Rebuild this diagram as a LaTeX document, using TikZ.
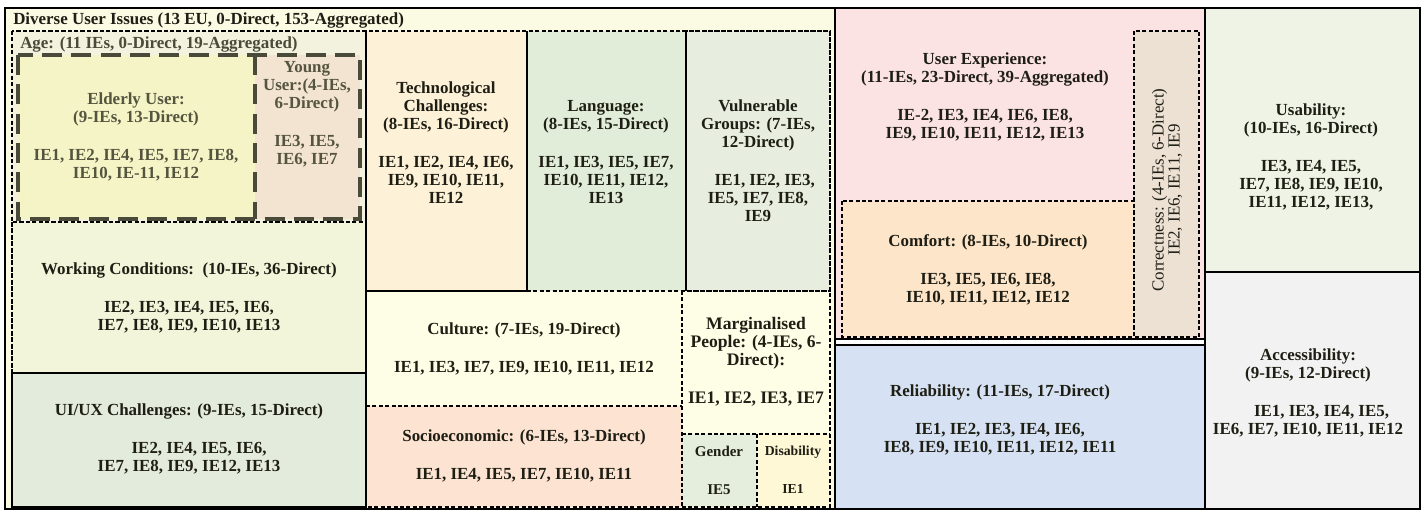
\documentclass[tikz,border=0pt]{standalone}
\usepackage{fontspec}
\setmainfont{Liberation Serif}
\definecolor{textc}{HTML}{1E1E14}
\definecolor{olivet}{HTML}{55553F}
\definecolor{agedash}{HTML}{4A4A3A}
\definecolor{cDiverse}{HTML}{FBFBE4}
\definecolor{cAge}{HTML}{F2F2DE}
\definecolor{cElder}{HTML}{F4F4C6}
\definecolor{cYoung}{HTML}{F3E3D1}
\definecolor{cTech}{HTML}{FDF1D7}
\definecolor{cLang}{HTML}{E1EDD9}
\definecolor{cVuln}{HTML}{E7EEDF}
\definecolor{cWork}{HTML}{F3F5DA}
\definecolor{cUI}{HTML}{E3EBDC}
\definecolor{cCult}{HTML}{FEFEE6}
\definecolor{cSocio}{HTML}{FCE3D2}
\definecolor{cMarg}{HTML}{FEFEE6}
\definecolor{cGender}{HTML}{E5EDDC}
\definecolor{cDisab}{HTML}{FEF8D6}
\definecolor{cUX}{HTML}{FCE3E3}
\definecolor{cCorr}{HTML}{EDE1D4}
\definecolor{cComf}{HTML}{FDE5C9}
\definecolor{cRel}{HTML}{D6E2F3}
\definecolor{cUsab}{HTML}{EFF3E6}
\definecolor{cAcc}{HTML}{F2F2F2}
\begin{document}
\begin{tikzpicture}[x=0.75pt,y=-0.75pt,
  txt/.style={font=\fontsize{12.7}{13.5}\selectfont\bfseries, align=center, text=textc, inner sep=0pt},
  dbox/.style={draw=black, line width=1.8pt, dash pattern=on 3pt off 1.8pt},
  sbox/.style={draw=black, line width=1.8pt},
  agebox/.style={draw=agedash, line width=2.4pt, dash pattern=on 15pt off 7pt},
  thick frame/.style={draw=black, line width=2.2pt}]
\useasboundingbox (0,0) rectangle (1421,510);
% backgrounds
\fill[cDiverse] (5,8) rectangle (835,510);
\fill[cUX] (835,8) rectangle (1205,340);
\fill[cRel] (835,344) rectangle (1205,510);
\fill[cUsab] (1205,8) rectangle (1420,272);
\fill[cAcc] (1205,272) rectangle (1420,510);
% left region fills
\fill[cAge] (12,31) rectangle (366,222);
\fill[cElder] (18,55) rectangle (255,219);
\fill[cYoung] (255,55) rectangle (360,219);
\fill[cTech] (366,31) rectangle (527,291);
\fill[cLang] (527,31) rectangle (686,291);
\fill[cVuln] (686,31) rectangle (830,291);
\fill[cWork] (12,222) rectangle (366,373);
\fill[cUI] (12,373) rectangle (366,507);
\fill[cCult] (366,291) rectangle (682,406);
\fill[cSocio] (366,406) rectangle (682,507);
\fill[cMarg] (682,291) rectangle (830,434);
\fill[cGender] (682,434) rectangle (757,507);
\fill[cDisab] (757,434) rectangle (830,507);
% right region fills
\fill[cCorr] (1134,31) rectangle (1199,337);
\fill[cComf] (842,201) rectangle (1134,337);
% dashed borders
\draw[dbox] (12,31) rectangle (830,507);
\draw[dbox] (12,31) rectangle (366,222);
\draw[dbox] (12,222) rectangle (366,373);
\draw[dbox] (12,373) rectangle (366,507);
\draw[dbox] (527,291) -- (830,291);
\draw[dbox] (686,31) rectangle (830,291);
\draw[dbox] (366,406) -- (682,406);
\draw[dbox] (682,291) -- (682,507);
\draw[dbox] (682,434) -- (830,434);
\draw[dbox] (757,434) -- (757,507);
\draw[dbox] (1134,31) rectangle (1199,337);
\draw[dbox] (842,201) rectangle (1134,337);
% age inner frame
\draw[agebox] (18,55) rectangle (360,219);
\draw[agebox] (255,55) -- (255,219);
% solid segments
\draw[sbox] (366,31) -- (366,291) -- (527,291) -- (527,31);
\draw[sbox] (686,31) -- (686,291);
\draw[sbox] (366,291) -- (366,507);
% right thick frame
\draw[thick frame] (835,8) -- (835,510);
\draw[thick frame] (1205,8) -- (1205,510);
\draw[thick frame] (1205,272) -- (1420,272);
\draw[thick frame] (835,339) -- (1205,339);
\draw[thick frame] (835,345) -- (1205,345);
\draw[line width=1.6pt] (5,8) rectangle (1420,509);
% titles
\node[txt, anchor=west] (tDiverse) at (13,20) {Diverse User Issues (13 EU, 0-Direct, 153-Aggregated)};
\node[txt, anchor=west, text=agedash] (tAge) at (20,44) {Age: (11 IEs, 0-Direct, 19-Aggregated)};
% texts
\node[txt, text=olivet] (tElder) at (136,137) {Elderly User:\\(9-IEs, 13-Direct)\\[15pt]IE1, IE2, IE4, IE5, IE7, IE8,\\IE10, IE-11, IE12};
\node[txt, text=olivet] (tYoung) at (307,114) {Young\\User:(4-IEs,\\6-Direct)\\[15pt]IE3, IE5,\\IE6, IE7};
\node[txt] (tTech) at (446,143) {Technological\\Challenges:\\(8-IEs, 16-Direct)\\[15pt]IE1, IE2, IE4, IE6,\\IE9, IE10, IE11,\\IE12};
\node[txt] (tLang) at (606,152) {Language:\\(8-IEs, 15-Direct)\\[15pt]IE1, IE3, IE5, IE7,\\IE10, IE11, IE12,\\IE13};
\node[txt] (tVuln) at (758,161) {Vulnerable\\Groups: (7-IEs,\\12-Direct)\\[15pt]\hspace*{0.8em}IE1, IE2, IE3,\\IE5, IE7, IE8,\\IE9};
\node[txt] (tWork) at (189,298) {Working Conditions:\ \ (10-IEs, 36-Direct)\\[15pt]IE2, IE3, IE4, IE5, IE6,\\IE7, IE8, IE9, IE10, IE13};
\node[txt] (tUI) at (189,439) {UI/UX Challenges: (9-IEs, 15-Direct)\\[15pt]\hspace*{1.2em}IE2, IE4, IE5, IE6,\\IE7, IE8, IE9, IE12, IE13};
\node[txt] (tCult) at (524,349) {Culture: (7-IEs, 19-Direct)\\[15pt]IE1, IE3, IE7, IE9, IE10, IE11, IE12};
\node[txt] (tSocio) at (524,456) {Socioeconomic: (6-IEs, 13-Direct)\\[15pt]IE1, IE4, IE5, IE7, IE10, IE11};
\node[txt, font=\fontsize{13.2}{13.5}\selectfont\bfseries] (tMarg) at (756,362) {Marginalised\\People: (4-IEs, 6-\\Direct):\\[15pt]IE1, IE2, IE3, IE7};
\node[txt, font=\fontsize{11.2}{13.5}\selectfont\bfseries] (tGender) at (719,470) {Gender\\[15pt]IE5};
\node[txt, font=\fontsize{10.3}{13.5}\selectfont\bfseries] (tDisab) at (793,470) {Disability\\[15pt]IE1};
\node[txt] (tUX) at (985,97) {User Experience:\\(11-IEs, 23-Direct, 39-Aggregated)\\[15pt]IE-2, IE3, IE4, IE6, IE8,\\IE9, IE10, IE11, IE12, IE13};
\node[txt] (tComf) at (988,270) {Comfort: (8-IEs, 10-Direct)\\[15pt]IE3, IE5, IE6, IE8,\\IE10, IE11, IE12, IE12};
\node[txt, font=\fontsize{12.7}{12}\selectfont, rotate=90] (tCorr) at (1167,190) {Correctness: (4-IEs, 6-Direct)\\IE2, IE6, IE11, IE9};
\node[txt] (tRel) at (1000,420) {Reliability: (11-IEs, 17-Direct)\\[15pt]IE1, IE2, IE3, IE4, IE6,\\IE8, IE9, IE10, IE11, IE12, IE11};
\node[txt] (tUsab) at (1311,157) {Usability:\\(10-IEs, 16-Direct)\\[15pt]IE3, IE4, IE5,\\IE7, IE8, IE9, IE10,\\IE11, IE12, IE13,};
\node[txt] (tAcc) at (1308,393) {Accessibility:\\(9-IEs, 12-Direct)\\[15pt]\hspace*{1.6em}IE1, IE3, IE4, IE5,\\IE6, IE7, IE10, IE11, IE12};
\end{tikzpicture}
\end{document}
